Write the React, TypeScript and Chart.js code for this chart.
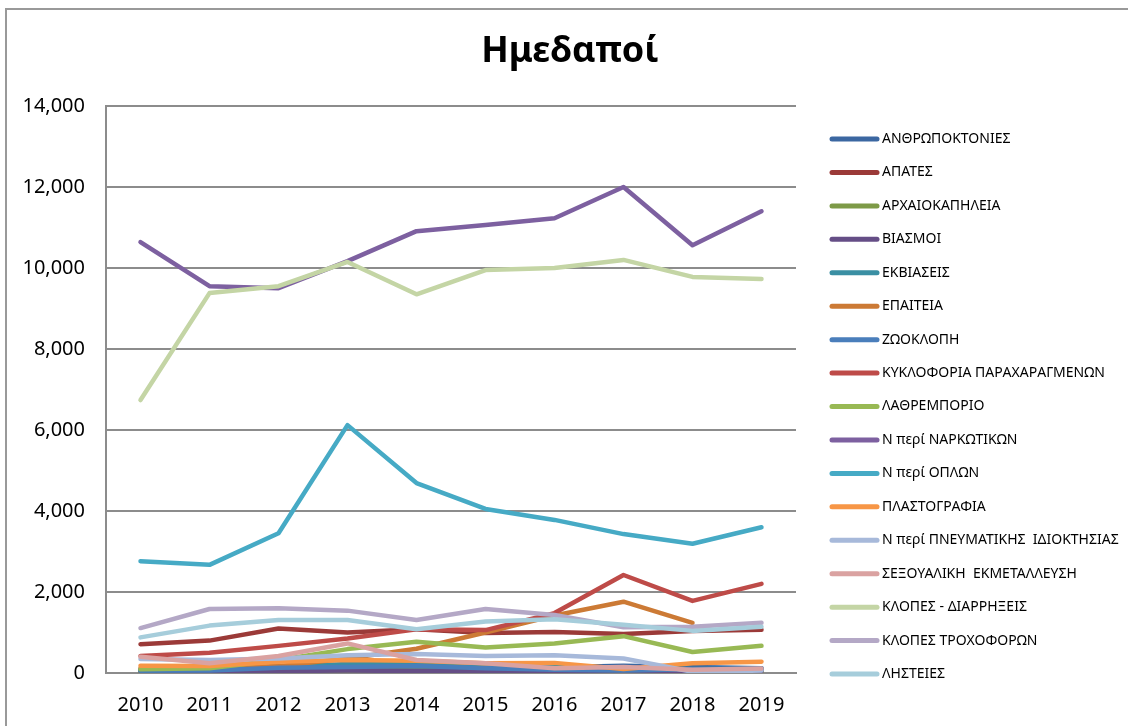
import React, { useEffect, useRef } from "react";
import { Chart, registerables } from "chart.js";

Chart.register(...registerables);

const years = ["2010", "2011", "2012", "2013", "2014", "2015", "2016", "2017", "2018", "2019"];
const yTicks = [0, 2000, 4000, 6000, 8000, 10000, 12000, 14000];

const seriesNames = [
  "ΑΝΘΡΩΠΟΚΤΟΝΙΕΣ",
  "ΑΠΑΤΕΣ",
  "ΑΡΧΑΙΟΚΑΠΗΛΕΙΑ",
  "ΒΙΑΣΜΟΙ",
  "ΕΚΒΙΑΣΕΙΣ",
  "ΕΠΑΙΤΕΙΑ",
  "ΖΩΟΚΛΟΠΗ",
  "ΚΥΚΛΟΦΟΡΙΑ ΠΑΡΑΧΑΡΑΓΜΕΝΩΝ",
  "ΛΑΘΡΕΜΠΟΡΙΟ",
  "Ν περί ΝΑΡΚΩΤΙΚΩΝ",
  "Ν περί ΟΠΛΩΝ",
  "ΠΛΑΣΤΟΓΡΑΦΙΑ",
  "Ν περί ΠΝΕΥΜΑΤΙΚΗΣ  ΙΔΙΟΚΤΗΣΙΑΣ",
  "ΣΕΞΟΥΑΛΙΚΗ  ΕΚΜΕΤΑΛΛΕΥΣΗ",
  "ΚΛΟΠΕΣ - ΔΙΑΡΡΗΞΕΙΣ",
  "ΚΛΟΠΕΣ ΤΡΟΧΟΦΟΡΩΝ",
  "ΛΗΣΤΕΙΕΣ",
];

const seriesColors = [
  "#3B67A1",
  "#9B3A38",
  "#7D9A47",
  "#654E86",
  "#3A8FA3",
  "#CC7A35",
  "#4A7EBB",
  "#BE4B48",
  "#98B954",
  "#7D60A0",
  "#46AAC5",
  "#F79646",
  "#A7B9DA",
  "#DAA2A1",
  "#C4D5A5",
  "#B4A8C6",
  "#A6CDDB",
];

const anthropoktonies = [90, 80, 100, 90, 100, 110, 140, 180, 150, 120];
const apates = [710, 800, 1100, 1000, 1080, 990, 1010, 960, 1040, 1070];
const archaiokapileia = [40, 40, 50, 60, 60, 50, 40, 40, 40, 40];
const viasmoi = [50, 40, 50, 60, 50, 40, 50, 60, 50, 50];
const ekviaseis = [60, 80, 150, 220, 240, 200, 150, 120, 100, 100];
const epaiteia = [120, 120, 170, 360, 600, 1000, 1420, 1760, 1240, null];
const zooklopi = [60, 60, 130, 150, 170, 120, 80, 60, 90, 110];
const kykloforia = [420, 500, 670, 850, 1080, 1060, 1480, 2420, 1780, 2200];
const lathremporio = [90, 115, 320, 590, 770, 630, 730, 910, 520, 670];
const narkotika = [10640, 9550, 9500, 10170, 10910, 11060, 11230, 12000, 10560, 11400];
const opla = [2760, 2670, 3450, 6120, 4690, 4050, 3780, 3430, 3190, 3600];
const plastografia = [180, 175, 280, 320, 300, 240, 250, 100, 240, 280];
const pnevmatiki = [345, 320, 360, 440, 470, 420, 440, 360, 30, 60];
const sexoualiki = [400, 240, 420, 730, 320, 240, 115, 150, 80, 110];
const klopesDiarrixeis = [6740, 9380, 9550, 10150, 9350, 9950, 10000, 10200, 9780, 9730];
const klopesTrochoforon = [1110, 1580, 1600, 1540, 1310, 1580, 1430, 1130, 1140, 1240];
const listeies = [880, 1170, 1310, 1310, 1080, 1270, 1330, 1190, 1040, 1140];

const seriesValues = [
  anthropoktonies,
  apates,
  archaiokapileia,
  viasmoi,
  ekviaseis,
  epaiteia,
  zooklopi,
  kykloforia,
  lathremporio,
  narkotika,
  opla,
  plastografia,
  pnevmatiki,
  sexoualiki,
  klopesDiarrixeis,
  klopesTrochoforon,
  listeies,
];

const FONT = "'Noto Sans', 'DejaVu Sans', sans-serif";
const GRID = "#8c8c8c";

const legendPlugin = {
  id: "sideLegend",
  afterDraw(chart: any) {
    const { ctx, chartArea } = chart;
    const startX = chartArea.right + 36;
    const lineLen = 45;
    const firstY = chartArea.top + 33;
    const step = (chartArea.bottom - chartArea.top - 32) / 16;
    ctx.save();
    ctx.font = `14px ${FONT}`;
    ctx.textBaseline = "middle";
    ctx.textAlign = "left";
    chart.data.datasets.forEach((ds: any, i: number) => {
      const y = firstY + i * step;
      ctx.beginPath();
      ctx.strokeStyle = ds.borderColor;
      ctx.lineWidth = 5;
      ctx.lineCap = "round";
      ctx.moveTo(startX, y);
      ctx.lineTo(startX + lineLen, y);
      ctx.stroke();
      ctx.fillStyle = "#000";
      ctx.fillText(ds.label, startX + lineLen + 5, y);
    });
    ctx.restore();
  },
};

export default function App() {
  const canvasRef = useRef<HTMLCanvasElement | null>(null);

  useEffect(() => {
    if (!canvasRef.current) return;
    const n = seriesNames.length;
    const chart = new Chart(canvasRef.current, {
      type: "line",
      data: {
        labels: years,
        datasets: seriesNames.map((name, i) => ({
          label: name,
          data: seriesValues[i],
          borderColor: seriesColors[i],
          backgroundColor: seriesColors[i],
          borderWidth: 4.5,
          pointRadius: 0,
          pointHoverRadius: 0,
          tension: 0,
          borderCapStyle: "round",
          borderJoinStyle: "round",
          fill: false,
          spanGaps: false,
          order: n - i,
        })),
      },
      options: {
        responsive: false,
        animation: false,
        devicePixelRatio: 1,
        layout: { padding: 0 },
        plugins: {
          legend: { display: false },
          tooltip: { enabled: false },
          title: {
            display: true,
            text: "Ημεδαποί",
            color: "#000",
            font: { family: FONT, size: 36, weight: "bold", lineHeight: 1.2 },
            padding: { top: 30.4, bottom: 32.4 },
          },
        },
        scales: {
          x: {
            type: "category",
            offset: true,
            grid: { display: false, drawTicks: false },
            border: { display: true, color: GRID, width: 2 },
            ticks: {
              color: "#000",
              font: { family: FONT, size: 20 },
              padding: 20,
              maxRotation: 0,
            },
            afterFit: (s: any) => {
              s.height = 53;
            },
          },
          y: {
            type: "linear",
            min: 0,
            max: 14000,
            grid: { display: true, color: GRID, lineWidth: 2, drawTicks: false },
            border: { display: true, color: GRID, width: 2 },
            afterBuildTicks: (s: any) => {
              s.ticks = yTicks.map((v) => ({ value: v }));
            },
            ticks: {
              color: "#000",
              font: { family: FONT, size: 20 },
              padding: 21,
              callback: (v: any) => Number(v).toLocaleString("en-US"),
            },
            afterFit: (s: any) => {
              s.width = 106;
            },
          },
          spacer: {
            type: "linear",
            position: "right",
            display: true,
            grid: { display: false, drawTicks: false },
            border: { display: false },
            ticks: { display: false },
            afterFit: (s: any) => {
              s.width = 344;
            },
          },
        },
      },
      plugins: [legendPlugin],
    } as any);
    return () => chart.destroy();
  }, []);

  return (
    <div
      style={{
        position: "fixed",
        left: 0,
        top: 0,
        width: 1128,
        height: 726,
        overflow: "hidden",
        background: "#fff",
      }}
    >
      <canvas
        ref={canvasRef}
        width={1140}
        height={726}
        style={{ position: "absolute", left: 0, top: 0, width: 1140, height: 726 }}
      />
      <div
        style={{
          position: "absolute",
          left: 5,
          top: 8,
          width: 2000,
          height: 2000,
          borderLeft: "2px solid #999",
          borderTop: "2px solid #999",
          pointerEvents: "none",
        }}
      />
    </div>
  );
}
